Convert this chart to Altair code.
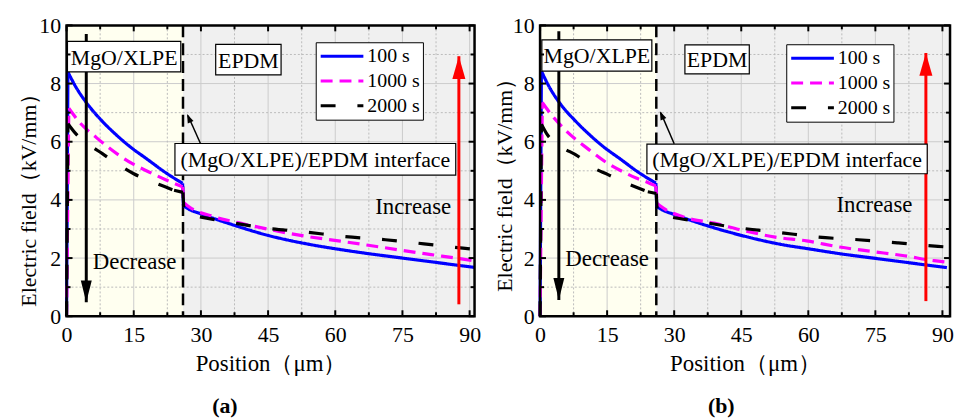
import altair as alt
import pandas as pd

# ---------------- data ----------------
SERIES = ["100 s", "1000 s", "2000 s"]
SERIES_COLORS = ["#0000FF", "#FF00FF", "#000000"]
SERIES_DASHES = [[1, 0], [12, 7], [15, 22]]

# panel (a)
A_X_100 = [0, 0.3, 2, 4.4, 8, 11, 14, 18, 22, 25.9, 26.1, 27.3, 30, 36, 45, 54.6, 60, 67.5, 75, 82.5, 91]
A_Y_100 = [0, 8.4, 7.9, 7.35, 6.7, 6.25, 5.85, 5.4, 4.95, 4.57, 3.8, 3.68, 3.52, 3.2, 2.78, 2.46, 2.32, 2.15, 2.0, 1.85, 1.68]
A_X_1000 = [0, 0.5, 3, 6.6, 11.75, 15, 18.4, 22, 25.9, 26.2, 27, 33, 38.8, 45.7, 53, 60.3, 67, 73.8, 81.4, 88.2, 91]
A_Y_1000 = [0, 7.15, 6.65, 6.15, 5.53, 5.22, 4.96, 4.7, 4.45, 3.9, 3.8, 3.42, 3.2, 2.97, 2.76, 2.6, 2.45, 2.29, 2.12, 1.97, 1.9]
A_X_2000 = [0, 0.3, 2.1, 5, 8, 11.5, 15, 19.5, 24, 26, 26.3, 27.5, 35.7, 44.6, 53.2, 62.2, 71.2, 79.8, 88.5, 91]
A_Y_2000 = [0, 6.62, 6.27, 5.9, 5.59, 5.22, 4.9, 4.6, 4.33, 4.26, 3.55, 3.5, 3.25, 3.03, 2.9, 2.74, 2.63, 2.49, 2.34, 2.3]

# panel (b)
B_X_100 = [0, 0.3, 2, 4.4, 8, 11, 14, 18, 22, 25.9, 26.1, 27.3, 30, 36, 45, 54.6, 60, 67.5, 75, 82.5, 91]
B_Y_100 = [0, 8.43, 7.9, 7.33, 6.7, 6.25, 5.85, 5.4, 4.95, 4.58, 3.77, 3.66, 3.5, 3.18, 2.78, 2.45, 2.32, 2.14, 1.99, 1.84, 1.67]
B_X_1000 = [0, 0.5, 3, 5.6, 11, 14.5, 18.5, 21.5, 24.1, 25.9, 26.2, 27, 31.9, 38.9, 45.7, 52.6, 59.6, 67, 74.1, 81.5, 88.1, 91]
B_Y_1000 = [0, 7.35, 6.84, 6.41, 5.72, 5.32, 4.97, 4.75, 4.6, 4.48, 3.88, 3.78, 3.42, 3.2, 2.94, 2.72, 2.59, 2.38, 2.23, 2.08, 1.91, 1.86]
B_X_2000 = [0, 0.3, 1.5, 4.5, 8.5, 11.5, 15.2, 19.5, 24.1, 26, 26.3, 27.5, 35.7, 44.8, 53.5, 62.2, 71.2, 80.1, 89, 91]
B_Y_2000 = [0, 6.6, 6.27, 5.85, 5.5, 5.14, 4.87, 4.56, 4.28, 4.22, 3.5, 3.46, 3.25, 3.03, 2.88, 2.72, 2.63, 2.52, 2.4, 2.38]

X_MAJOR = [0, 15, 30, 45, 60, 75, 90]
X_MINOR = [7.5, 22.5, 37.5, 52.5, 67.5, 82.5]
Y_MAJOR = [0, 2, 4, 6, 8, 10]
Y_MINOR = [1, 3, 5, 7, 9]
INTERFACE_X = 26

# annotations per panel
ANN_A = {
    "boxes": {"x": [0.2, 33.3, 24.2], "x2": [25.5, 47.9, 86.9], "y": [8.4, 8.3, 4.85], "y2": [9.45, 9.35, 5.94],
              "text": ["MgO/XLPE", "EPDM", "(MgO/XLPE)/EPDM interface"]},
    "pointer": {"x": [29.9], "y": [5.94], "x2": [27.1], "y2": [6.9], "tipx": [26.9], "tipy": [6.95]},
    "down": {"x": [4.4], "top": [9.7], "tip": [0.48]},
    "up": {"x": [87.6], "bottom": [0.41], "tip": [8.94]},
    "words": {"x": [77.4, 15.2], "y": [3.75, 1.88], "text": ["Increase", "Decrease"]},
    "legend": (251, 17),
}
ANN_B = {
    "boxes": {"x": [0.4, 32.4, 23.9], "x2": [25.0, 46.8, 86.6], "y": [8.43, 8.33, 4.9], "y2": [9.5, 9.33, 5.92],
              "text": ["MgO/XLPE", "EPDM", "(MgO/XLPE)/EPDM interface"]},
    "pointer": {"x": [30.0], "y": [5.93], "x2": [27.0], "y2": [7.0], "tipx": [26.8], "tipy": [7.05]},
    "down": {"x": [4.2], "top": [9.8], "tip": [0.56]},
    "up": {"x": [86.3], "bottom": [0.52], "tip": [9.05]},
    "words": {"x": [74.8, 15.0], "y": [3.82, 1.97], "text": ["Increase", "Decrease"]},
    "legend": (248, 19),
}

FONT = "Liberation Serif"
H = 293


def curves_df(xs_list, ys_list):
    """Split each curve into: initial rise, MgO/XLPE part, jump at interface, EPDM part."""
    rows = []
    for s, xs, ys in zip(SERIES, xs_list, ys_list):
        k = max(j for j, x in enumerate(xs) if x < INTERFACE_X)  # last point before the jump
        n = len(xs)
        segs = [(0, [0, 1]), (1, list(range(1, k + 1))), (2, [k, k + 1]), (3, list(range(k + 1, n)))]
        for sid, idx in segs:
            for i in idx:
                rows.append({"series": s, "seg": f"{s}-{sid}", "x": xs[i], "y": ys[i], "i": i})
    return pd.DataFrame(rows)


def panel(curves, ann, width, xmax, label, label_dx, ytitle_x, ytitle_y):
    xs = alt.Scale(domain=[0, xmax], nice=False, zero=False)
    ys = alt.Scale(domain=[0, 10], nice=False, zero=False)
    xaxis = alt.Axis(values=X_MAJOR, title="Position（μm）", ticks=False, domain=False, grid=False,
                     labelFont=FONT, labelFontSize=22, labelColor="black", labelPadding=8, labelFlush=False,
                     titleFont=FONT, titleFontSize=23, titleFontWeight="normal", titleColor="black",
                     titlePadding=8)
    yaxis = alt.Axis(values=Y_MAJOR, title="Electric field（kV/mm）", ticks=False, domain=False, grid=False,
                     labelFont=FONT, labelFontSize=22, labelColor="black", labelPadding=6, labelFlush=False,
                     titleFont=FONT, titleFontSize=22, titleFontWeight="normal", titleColor="black",
                     titleX=ytitle_x, titleY=ytitle_y, titleAlign="center", titleBaseline="middle",
                     titleAngle=270)

    X = lambda f: alt.X(f, scale=xs, axis=xaxis)
    Y = lambda f: alt.Y(f, scale=ys, axis=yaxis)

    layers = []
    # background regions
    bg = pd.DataFrame({"x": [0, INTERFACE_X], "x2": [INTERFACE_X, xmax], "fill": ["#FFFFF0", "#F0F0F0"]})
    layers.append(alt.Chart(bg).mark_rect().encode(
        x=X("x:Q"), x2="x2:Q", y=alt.value(0), y2=alt.value(H), fill=alt.Fill("fill:N", scale=None)))
    # grid
    layers.append(alt.Chart(pd.DataFrame({"v": X_MAJOR})).mark_rule(color="#cccccc", strokeWidth=1)
                  .encode(x=X("v:Q")))
    layers.append(alt.Chart(pd.DataFrame({"v": Y_MAJOR})).mark_rule(color="#cccccc", strokeWidth=1)
                  .encode(y=Y("v:Q")))
    layers.append(alt.Chart(pd.DataFrame({"v": X_MINOR})).mark_rule(color="#bbbbbb", strokeWidth=1, strokeDash=[2, 2])
                  .encode(x=X("v:Q")))
    layers.append(alt.Chart(pd.DataFrame({"v": Y_MINOR})).mark_rule(color="#bbbbbb", strokeWidth=1, strokeDash=[2, 2])
                  .encode(y=Y("v:Q")))
    # interface line
    layers.append(alt.Chart(pd.DataFrame({"v": [INTERFACE_X]})).mark_rule(color="black", strokeWidth=2.5, strokeDash=[12, 6])
                  .encode(x=X("v:Q")))
    # curves
    leg = alt.Legend(orient="none", legendX=ann["legend"][0], legendY=ann["legend"][1], title=None,
                     strokeColor="black", fillColor="white", padding=3, symbolType="stroke",
                     symbolSize=1850, symbolStrokeWidth=3, labelFont=FONT, labelFontSize=20,
                     labelColor="black", rowPadding=3, labelOffset=2, clipHeight=22)
    layers.append(alt.Chart(curves).mark_line(strokeWidth=3.2, interpolate="monotone").encode(
        x=X("x:Q"),
        y=Y("y:Q"),
        color=alt.Color("series:N", scale=alt.Scale(domain=SERIES, range=SERIES_COLORS), legend=leg),
        strokeDash=alt.StrokeDash("series:N", scale=alt.Scale(domain=SERIES, range=SERIES_DASHES), legend=leg),
        detail="seg:N",
        order="i:Q"))
    # down arrow (black)
    d = pd.DataFrame(ann["down"])
    layers.append(alt.Chart(d).mark_rule(color="black", strokeWidth=3).encode(x=X("x:Q"), y=Y("top:Q"), y2="tip:Q"))
    layers.append(alt.Chart(d).mark_point(shape="M0,1L0.5,-1L-0.5,-1Z", size=484, filled=True, opacity=1,
                                          color="black", yOffset=-11).encode(x=X("x:Q"), y=Y("tip:Q")))
    # up arrow (red)
    u = pd.DataFrame(ann["up"])
    layers.append(alt.Chart(u).mark_rule(color="#FF0000", strokeWidth=3).encode(x=X("x:Q"), y=Y("bottom:Q"), y2="tip:Q"))
    layers.append(alt.Chart(u).mark_point(shape="M0,-1L0.57,1L-0.57,1Z", size=529, filled=True, opacity=1,
                                          color="#FF0000", yOffset=11.5).encode(x=X("x:Q"), y=Y("tip:Q")))
    # boxes
    b = pd.DataFrame(ann["boxes"])
    b["cx"] = (b["x"] + b["x2"]) / 2
    b["cy"] = (b["y"] + b["y2"]) / 2
    layers.append(alt.Chart(b).mark_rect(fill="white", stroke="black", strokeWidth=1.2).encode(
        x=X("x:Q"), x2="x2:Q", y=Y("y:Q"), y2="y2:Q"))
    layers.append(alt.Chart(b).mark_text(font=FONT, fontSize=22, color="black", baseline="middle", dy=1).encode(
        x=X("cx:Q"), y=Y("cy:Q"), text="text:N"))
    # pointer arrow to interface
    p = pd.DataFrame(ann["pointer"])
    layers.append(alt.Chart(p).mark_rule(color="black", strokeWidth=1.5).encode(
        x=X("x:Q"), y=Y("y:Q"), x2="x2:Q", y2="y2:Q"))
    layers.append(alt.Chart(p).mark_point(shape="M0,-1L0.7,1L-0.7,1Z", size=81, angle=336, filled=True, opacity=1,
                                          color="black", xOffset=1.8, yOffset=4.1).encode(x=X("tipx:Q"), y=Y("tipy:Q")))
    # words
    w = pd.DataFrame(ann["words"])
    layers.append(alt.Chart(w).mark_text(font=FONT, fontSize=23, color="black", baseline="middle").encode(
        x=X("x:Q"), y=Y("y:Q"), text="text:N"))
    # ticks (inward, all four sides)
    for vals, ln in ((X_MAJOR, 6), (X_MINOR, 4)):
        df = pd.DataFrame({"v": vals})
        layers.append(alt.Chart(df).mark_rule(color="black", strokeWidth=2).encode(
            x=X("v:Q"), y=alt.value(H), y2=alt.value(H - ln)))
        layers.append(alt.Chart(df).mark_rule(color="black", strokeWidth=2).encode(
            x=X("v:Q"), y=alt.value(0), y2=alt.value(ln)))
    for vals, ln in ((Y_MAJOR, 6), (Y_MINOR, 4)):
        df = pd.DataFrame({"v": vals})
        layers.append(alt.Chart(df).mark_rule(color="black", strokeWidth=2).encode(
            y=Y("v:Q"), x=alt.value(0), x2=alt.value(ln)))
        layers.append(alt.Chart(df).mark_rule(color="black", strokeWidth=2).encode(
            y=Y("v:Q"), x=alt.value(width), x2=alt.value(width - ln)))
    # frame
    layers.append(alt.Chart(pd.DataFrame({"d": [0]})).mark_rect(filled=False, stroke="black", strokeWidth=2.5).encode(
        x=alt.value(0), x2=alt.value(width), y=alt.value(0), y2=alt.value(H)))

    return alt.layer(*layers).properties(
        width=width, height=H,
        title=alt.TitleParams(label, orient="bottom", font=FONT, fontSize=22, fontWeight="bold",
                              color="black", dx=label_dx, offset=20))


pa = panel(curves_df([A_X_100, A_X_1000, A_X_2000], [A_Y_100, A_Y_1000, A_Y_2000]), ANN_A,
           411, 91.1, "(a)", -46, -38, 170)
pb = panel(curves_df([B_X_100, B_X_1000, B_X_2000], [B_Y_100, B_Y_1000, B_Y_2000]), ANN_B,
           413, 91.7, "(b)", -24, -36, 155)

chart = alt.hconcat(pa, pb, spacing=12).resolve_scale(
    color="independent", strokeDash="independent"
).resolve_legend(
    color="independent", strokeDash="independent"
).configure(
    padding={"left": 10, "top": 5, "right": 0, "bottom": 0},
    font=FONT,
).configure_view(stroke=None)

chart.save("out.html", embed_options={"renderer": "svg", "actions": False})
